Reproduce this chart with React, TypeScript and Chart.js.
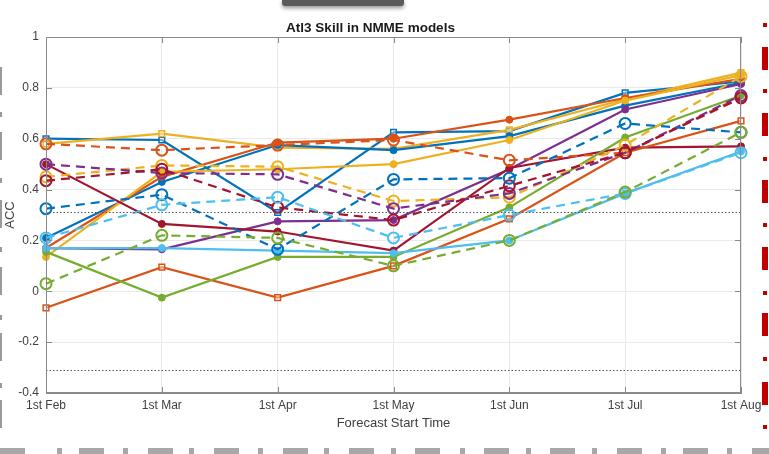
import React, { useEffect, useRef } from "react";
import { Chart, registerables } from "chart.js";

Chart.register(...registerables);

const TITLE = "Atl3 Skill in NMME models";
const X_TITLE = "Forecast Start Time";
const Y_TITLE = "ACC";
const months = ["1st Feb", "1st Mar", "1st Apr", "1st May", "1st Jun", "1st Jul", "1st Aug"];
const yTicks = [-0.4, -0.2, 0, 0.2, 0.4, 0.6, 0.8, 1];
const SIG = [0.31, -0.31];

// solid lines
const blueSq = [0.6, 0.595, 0.31, 0.625, 0.63, 0.78, 0.825];
const blueDot = [0.21, 0.43, 0.575, 0.555, 0.61, 0.73, 0.82];
const orangeDot = [0.17, 0.45, 0.585, 0.6, 0.675, 0.76, 0.835];
const orangeSq = [-0.065, 0.095, -0.025, 0.1, 0.285, 0.545, 0.67];
const yellowSq = [0.58, 0.62, 0.565, 0.56, 0.635, 0.755, 0.86];
const yellowDot = [0.135, 0.47, 0.48, 0.5, 0.595, 0.75, 0.85];
const purpleDot = [0.17, 0.165, 0.275, 0.28, 0.48, 0.715, 0.815];
const greenDot = [0.155, -0.025, 0.135, 0.135, 0.33, 0.605, 0.77];
const lightBlueDot = [0.17, 0.17, 0.16, 0.15, 0.2, 0.385, 0.55];
const darkRedDot = [0.5, 0.265, 0.235, 0.16, 0.485, 0.565, 0.57];
// dashed lines (open circles)
const orangeDash = [0.58, 0.555, 0.575, 0.595, 0.515, 0.545, 0.765];
const yellowDash = [0.45, 0.495, 0.49, 0.355, 0.37, 0.575, 0.845];
const purpleDash = [0.5, 0.465, 0.46, 0.325, 0.385, 0.545, 0.77];
const darkRedDash = [0.435, 0.48, 0.33, 0.28, 0.415, 0.545, 0.76];
const blueDash = [0.325, 0.38, 0.165, 0.44, 0.445, 0.66, 0.625];
const lightBlueDash = [0.21, 0.34, 0.37, 0.21, 0.3, 0.385, 0.545];
const greenDash = [0.03, 0.22, 0.21, 0.1, 0.2, 0.39, 0.625];

const C = {
  blue: "#0072BD",
  orange: "#D95319",
  yellow: "#EDB120",
  purple: "#7E2F8E",
  green: "#77AC30",
  lightBlue: "#4DBEEE",
  darkRed: "#A2142F",
};

const FONT = "'Liberation Sans', Arial, Helvetica, sans-serif";
const AXIS_COLOR = "#8a8a8a";

function solidDot(data: number[], color: string) {
  return {
    data,
    borderColor: color,
    backgroundColor: color,
    borderWidth: 2.2,
    pointStyle: "circle",
    pointRadius: 3.5,
    pointBorderWidth: 1,
  };
}
function solidSq(data: number[], color: string) {
  return {
    data,
    borderColor: color,
    backgroundColor: "rgba(255,255,255,0.4)",
    borderWidth: 2.2,
    pointStyle: "rect",
    pointRadius: 4,
    pointBorderWidth: 1.5,
  };
}
function dashCircle(data: number[], color: string) {
  return {
    data,
    borderColor: color,
    backgroundColor: "transparent",
    borderWidth: 2.2,
    borderDash: [9, 6],
    pointStyle: "circle",
    pointRadius: 5.5,
    pointBorderWidth: 2,
  };
}

const boxPlugin = {
  id: "boxPlugin",
  afterDatasetsDraw(chart: any) {
    const { ctx, chartArea, scales } = chart;
    const y = scales.y;
    ctx.save();
    ctx.strokeStyle = "#555";
    ctx.lineWidth = 1;
    ctx.setLineDash([1.5, 2]);
    SIG.forEach((v) => {
      const py = Math.round(y.getPixelForValue(v)) + 0.5;
      ctx.beginPath();
      ctx.moveTo(chartArea.left, py);
      ctx.lineTo(chartArea.right, py);
      ctx.stroke();
    });
    ctx.setLineDash([]);
    ctx.strokeStyle = AXIS_COLOR;
    ctx.lineWidth = 1;
    ctx.strokeRect(chartArea.left + 0.5, chartArea.top + 0.5, chartArea.right - chartArea.left - 1, chartArea.bottom - chartArea.top - 1);
    ctx.beginPath();
    yTicks.forEach((v) => {
      const py = Math.round(y.getPixelForValue(v)) + 0.5;
      ctx.moveTo(chartArea.left, py);
      ctx.lineTo(chartArea.left + 6, py);
      ctx.moveTo(chartArea.right, py);
      ctx.lineTo(chartArea.right - 6, py);
    });
    months.forEach((_, i) => {
      const px = Math.round(scales.x.getPixelForValue(i)) + 0.5;
      ctx.moveTo(px, chartArea.bottom);
      ctx.lineTo(px, chartArea.bottom - 6);
      ctx.moveTo(px, chartArea.top);
      ctx.lineTo(px, chartArea.top + 6);
    });
    ctx.stroke();
    ctx.restore();
  },
};

function Decorations() {
  const redLong = [47, 113, 180, 247, 313, 382];
  const redSmall = [23, 89, 157, 223, 291, 357, 425];
  const grayLongX = [0, 79, 148, 214, 283, 349, 415, 484, 550, 617, 683, 752];
  const graySmallX = [57, 123, 189, 258, 324, 391, 460, 526, 592, 661, 727];
  const leftLong = [67, 132, 200, 267, 333, 400];
  const leftSmall = [112, 178, 247, 315, 383];
  const abs = (s: any) => ({ position: "absolute" as const, ...s });
  return (
    <>
      <div style={abs({ left: 282, top: 0, width: 122, height: 6, background: "#5a5a5a", boxShadow: "0 2px 4px rgba(0,0,0,0.45)", borderRadius: "0 0 3px 3px" })} />
      {redLong.map((t) => (
        <div key={"rl" + t} style={abs({ left: 762, top: t, width: 6, height: 23, background: "#C00000" })} />
      ))}
      {redSmall.map((t) => (
        <div key={"rs" + t} style={abs({ left: 763, top: t, width: 4, height: 4, background: "#C00000" })} />
      ))}
      {grayLongX.map((l) => (
        <div key={"gl" + l} style={abs({ left: l, top: 448, width: 25, height: 6, background: "#a8a8a8" })} />
      ))}
      {graySmallX.map((l) => (
        <div key={"gs" + l} style={abs({ left: l, top: 448, width: 5, height: 6, background: "#a8a8a8" })} />
      ))}
      {leftLong.map((t) => (
        <div key={"ll" + t} style={abs({ left: 0, top: t, width: 2, height: 28, background: "#9a9a9a" })} />
      ))}
      {leftSmall.map((t) => (
        <div key={"ls" + t} style={abs({ left: 0, top: t, width: 2, height: 5, background: "#9a9a9a" })} />
      ))}
    </>
  );
}

export default function App() {
  const ref = useRef<HTMLCanvasElement | null>(null);
  useEffect(() => {
    if (!ref.current) return;
    const datasets: any[] = [
      dashCircle(greenDash, C.green),
      dashCircle(lightBlueDash, C.lightBlue),
      dashCircle(blueDash, C.blue),
      dashCircle(darkRedDash, C.darkRed),
      dashCircle(purpleDash, C.purple),
      dashCircle(yellowDash, C.yellow),
      dashCircle(orangeDash, C.orange),
      solidDot(lightBlueDot, C.lightBlue),
      solidDot(greenDot, C.green),
      solidSq(orangeSq, C.orange),
      solidDot(darkRedDot, C.darkRed),
      solidDot(purpleDot, C.purple),
      solidDot(yellowDot, C.yellow),
      solidDot(orangeDot, C.orange),
      solidDot(blueDot, C.blue),
      solidSq(yellowSq, C.yellow),
      solidSq(blueSq, C.blue),
    ];
    const chart = new Chart(ref.current, {
      type: "line",
      data: { labels: months, datasets },
      options: {
        animation: false,
        responsive: false,
        devicePixelRatio: 1,
        layout: { padding: { left: 0, right: 28, top: 0, bottom: 0 } },
        plugins: {
          legend: { display: false },
          tooltip: { enabled: false },
          title: {
            display: true,
            text: TITLE,
            color: "#1a1a1a",
            font: { family: FONT, size: 13.5, weight: "bold", lineHeight: 1.2 },
            padding: { top: 20, bottom: 0.8 },
          },
        },
        elements: { line: { tension: 0 } },
        scales: {
          x: {
            type: "category",
            offset: false,
            grid: { color: "#e9e9e9", drawTicks: false },
            border: { color: AXIS_COLOR },
            ticks: { color: "#404040", font: { family: FONT, size: 12 }, padding: 5.5, maxRotation: 0, autoSkip: false },
            title: {
              display: true,
              text: X_TITLE,
              color: "#404040",
              font: { family: FONT, size: 13, lineHeight: 1.2 },
              padding: { top: 0, bottom: 23 },
            },
            afterFit: (s: any) => {
              s.height = 61;
            },
          },
          y: {
            min: -0.4,
            max: 1,
            grid: { color: "#e9e9e9", drawTicks: false },
            border: { color: AXIS_COLOR },
            afterBuildTicks: (s: any) => {
              s.ticks = yTicks.map((v) => ({ value: v }));
            },
            ticks: {
              color: "#404040",
              font: { family: FONT, size: 12 },
              padding: 7,
              callback: (v: any) => String(Math.round(Number(v) * 10) / 10),
            },
            title: {
              display: true,
              text: Y_TITLE,
              color: "#404040",
              font: { family: FONT, size: 13, lineHeight: 1.2 },
              padding: { top: 3, bottom: 0 },
            },
            afterFit: (s: any) => {
              s.width = 46;
            },
          },
        },
      } as any,
      plugins: [boxPlugin],
    });
    return () => chart.destroy();
  }, []);
  return (
    <div style={{ position: "fixed", left: 0, top: 0, width: 769, height: 454, background: "#fff", overflow: "hidden" }}>
      <canvas ref={ref} width={769} height={454} style={{ position: "absolute", left: 0, top: 0, width: 769, height: 454 }} />
      <Decorations />
    </div>
  );
}
